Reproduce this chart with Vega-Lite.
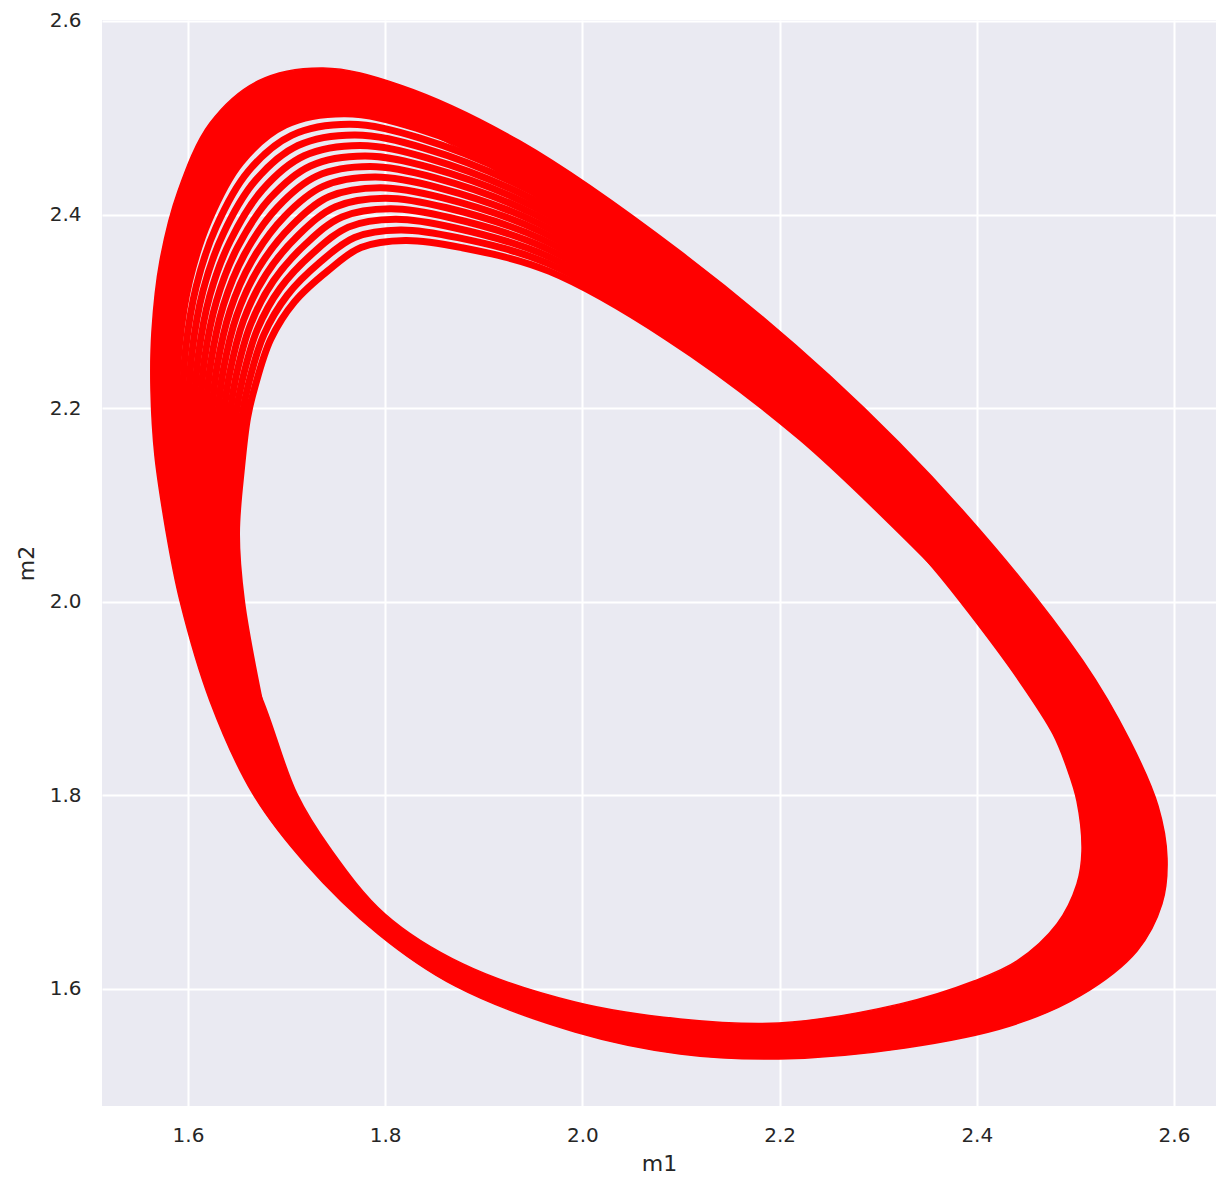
{
  "$schema": "https://vega.github.io/schema/vega-lite/v6.json",
  "width": 1114,
  "height": 1086,
  "autosize": {"type": "none"},
  "padding": {"left": 102, "top": 20, "right": 14, "bottom": 86},
  "background": "white",
  "config": {
    "view": {"fill": "#EAEAF2", "stroke": null},
    "font": "DejaVu Sans",
    "axis": {
      "domain": false,
      "ticks": false,
      "tickSize": 0,
      "gridColor": "#FFFFFF",
      "gridWidth": 2,
      "labelFont": "DejaVu Sans",
      "labelFontSize": 20,
      "labelColor": "#262626",
      "labelPadding": 21,
      "labelFlush": false,
      "labelOverlap": false,
      "titleFont": "DejaVu Sans",
      "titleFontSize": 22,
      "titleFontWeight": "normal",
      "titleColor": "#262626"
    }
  },
  "datasets": {
    "ring": [
      {"i": 1, "m1": 1.5777, "m2": 2.0731},
      {"i": 2, "m1": 1.5665, "m2": 2.1506},
      {"i": 3, "m1": 1.5625, "m2": 2.2178},
      {"i": 4, "m1": 1.5635, "m2": 2.2797},
      {"i": 5, "m1": 1.5716, "m2": 2.3521},
      {"i": 6, "m1": 1.5899, "m2": 2.4244},
      {"i": 7, "m1": 1.6223, "m2": 2.4946},
      {"i": 8, "m1": 1.6710, "m2": 2.5380},
      {"i": 9, "m1": 1.7369, "m2": 2.5514},
      {"i": 10, "m1": 1.8150, "m2": 2.5339},
      {"i": 11, "m1": 1.9367, "m2": 2.4760},
      {"i": 12, "m1": 2.0990, "m2": 2.3624},
      {"i": 13, "m1": 2.2511, "m2": 2.2333},
      {"i": 14, "m1": 2.3880, "m2": 2.0917},
      {"i": 15, "m1": 2.5077, "m2": 1.9388},
      {"i": 16, "m1": 2.5554, "m2": 1.8562},
      {"i": 17, "m1": 2.5838, "m2": 1.7890},
      {"i": 18, "m1": 2.5929, "m2": 1.7353},
      {"i": 19, "m1": 2.5878, "m2": 1.6878},
      {"i": 20, "m1": 2.5625, "m2": 1.6392},
      {"i": 21, "m1": 2.5047, "m2": 1.5927},
      {"i": 22, "m1": 2.4337, "m2": 1.5617},
      {"i": 23, "m1": 2.3272, "m2": 1.5390},
      {"i": 24, "m1": 2.1994, "m2": 1.5276},
      {"i": 25, "m1": 2.0990, "m2": 1.5328},
      {"i": 26, "m1": 1.9925, "m2": 1.5555},
      {"i": 27, "m1": 1.8708, "m2": 1.6031},
      {"i": 28, "m1": 1.7927, "m2": 1.6568},
      {"i": 29, "m1": 1.7187, "m2": 1.7301},
      {"i": 30, "m1": 1.6659, "m2": 1.8014},
      {"i": 31, "m1": 1.6223, "m2": 1.8975},
      {"i": 32, "m1": 1.5919, "m2": 2.0008},
      {"i": 33, "m1": 1.5777, "m2": 2.0731},
      {"i": 34, "m1": null, "m2": null},
      {"i": 35, "m1": 1.6314, "m2": 2.0008},
      {"i": 36, "m1": 1.6761, "m2": 1.8975},
      {"i": 37, "m1": 1.7105, "m2": 1.8014},
      {"i": 38, "m1": 1.7440, "m2": 1.7456},
      {"i": 39, "m1": 1.7998, "m2": 1.6774},
      {"i": 40, "m1": 1.8789, "m2": 1.6258},
      {"i": 41, "m1": 1.9925, "m2": 1.5865},
      {"i": 42, "m1": 2.0990, "m2": 1.5690},
      {"i": 43, "m1": 2.1994, "m2": 1.5648},
      {"i": 44, "m1": 2.3221, "m2": 1.5845},
      {"i": 45, "m1": 2.3972, "m2": 1.6082},
      {"i": 46, "m1": 2.4408, "m2": 1.6289},
      {"i": 47, "m1": 2.4813, "m2": 1.6671},
      {"i": 48, "m1": 2.5016, "m2": 1.7084},
      {"i": 49, "m1": 2.5067, "m2": 1.7425},
      {"i": 50, "m1": 2.5016, "m2": 1.7942},
      {"i": 51, "m1": 2.4915, "m2": 1.8283},
      {"i": 52, "m1": 2.4773, "m2": 1.8634},
      {"i": 53, "m1": 2.4408, "m2": 1.9213},
      {"i": 54, "m1": 2.3982, "m2": 1.9802},
      {"i": 55, "m1": 2.3556, "m2": 2.0349},
      {"i": 56, "m1": 2.2268, "m2": 2.1795},
      {"i": 57, "m1": 2.0911, "m2": 2.3066},
      {"i": 58, "m1": 1.9489, "m2": 2.4210},
      {"i": 59, "m1": 1.8316, "m2": 2.4893},
      {"i": 60, "m1": 1.7591, "m2": 2.5041},
      {"i": 61, "m1": 1.6987, "m2": 2.4923},
      {"i": 62, "m1": 1.6539, "m2": 2.4540},
      {"i": 63, "m1": 1.6213, "m2": 2.3940},
      {"i": 64, "m1": 1.6014, "m2": 2.3306},
      {"i": 65, "m1": 1.5912, "m2": 2.2644},
      {"i": 66, "m1": 1.5886, "m2": 2.2105},
      {"i": 67, "m1": 1.5902, "m2": 2.1474},
      {"i": 68, "m1": 1.5972, "m2": 2.0723},
      {"i": 69, "m1": 1.6314, "m2": 2.0008}
    ],
    "strands": [
      {"s": 1, "i": 1, "m1": 1.6725, "m2": 1.8975}, {"s": 1, "i": 2, "m1": 1.6543, "m2": 2.0008}, {"s": 1, "i": 3, "m1": 1.6492, "m2": 2.0701}, {"s": 1, "i": 4, "m1": 1.6543, "m2": 2.1384},
      {"s": 1, "i": 5, "m1": 1.6605, "m2": 2.1905}, {"s": 1, "i": 6, "m1": 1.6679, "m2": 2.2221}, {"s": 1, "i": 7, "m1": 1.6839, "m2": 2.2711}, {"s": 1, "i": 8, "m1": 1.7081, "m2": 2.3099},
      {"s": 1, "i": 9, "m1": 1.7416, "m2": 2.3417}, {"s": 1, "i": 10, "m1": 1.7754, "m2": 2.3659}, {"s": 1, "i": 11, "m1": 1.8204, "m2": 2.3732}, {"s": 1, "i": 12, "m1": 1.8776, "m2": 2.3658},
      {"s": 1, "i": 13, "m1": 1.9665, "m2": 2.3413}, {"s": 1, "i": 14, "m1": 2.0863, "m2": 2.2730}, {"s": 1, "i": 15, "m1": 2.2221, "m2": 2.1695}, {"s": 1, "i": 16, "m1": 2.3574, "m2": 2.0380},

      {"s": 2, "i": 1, "m1": 1.6718, "m2": 1.8975}, {"s": 2, "i": 2, "m1": 1.6525, "m2": 2.0008}, {"s": 2, "i": 3, "m1": 1.6467, "m2": 2.0702}, {"s": 2, "i": 4, "m1": 1.6505, "m2": 2.1392},
      {"s": 2, "i": 5, "m1": 1.6549, "m2": 2.1921}, {"s": 2, "i": 6, "m1": 1.6615, "m2": 2.2256}, {"s": 2, "i": 7, "m1": 1.6770, "m2": 2.2760}, {"s": 2, "i": 8, "m1": 1.7009, "m2": 2.3169},
      {"s": 2, "i": 9, "m1": 1.7343, "m2": 2.3511}, {"s": 2, "i": 10, "m1": 1.7690, "m2": 2.3764}, {"s": 2, "i": 11, "m1": 1.8153, "m2": 2.3841}, {"s": 2, "i": 12, "m1": 1.8738, "m2": 2.3761},
      {"s": 2, "i": 13, "m1": 1.9647, "m2": 2.3496}, {"s": 2, "i": 14, "m1": 2.0869, "m2": 2.2768}, {"s": 2, "i": 15, "m1": 2.2231, "m2": 2.1715}, {"s": 2, "i": 16, "m1": 2.3582, "m2": 2.0394},

      {"s": 3, "i": 1, "m1": 1.6686, "m2": 1.8975}, {"s": 3, "i": 2, "m1": 1.6486, "m2": 2.0008}, {"s": 3, "i": 3, "m1": 1.6422, "m2": 2.0704}, {"s": 3, "i": 4, "m1": 1.6450, "m2": 2.1399},
      {"s": 3, "i": 5, "m1": 1.6488, "m2": 2.1938}, {"s": 3, "i": 6, "m1": 1.6551, "m2": 2.2291}, {"s": 3, "i": 7, "m1": 1.6702, "m2": 2.2810}, {"s": 3, "i": 8, "m1": 1.6936, "m2": 2.3240},
      {"s": 3, "i": 9, "m1": 1.7270, "m2": 2.3604}, {"s": 3, "i": 10, "m1": 1.7626, "m2": 2.3870}, {"s": 3, "i": 11, "m1": 1.8102, "m2": 2.3951}, {"s": 3, "i": 12, "m1": 1.8700, "m2": 2.3864},
      {"s": 3, "i": 13, "m1": 1.9628, "m2": 2.3578}, {"s": 3, "i": 14, "m1": 2.0876, "m2": 2.2824}, {"s": 3, "i": 15, "m1": 2.2250, "m2": 2.1755}, {"s": 3, "i": 16, "m1": 2.3601, "m2": 2.0429},

      {"s": 4, "i": 1, "m1": 1.6653, "m2": 1.8975}, {"s": 4, "i": 2, "m1": 1.6446, "m2": 2.0008}, {"s": 4, "i": 3, "m1": 1.6377, "m2": 2.0706}, {"s": 4, "i": 4, "m1": 1.6395, "m2": 2.1407},
      {"s": 4, "i": 5, "m1": 1.6428, "m2": 2.1955}, {"s": 4, "i": 6, "m1": 1.6487, "m2": 2.2327}, {"s": 4, "i": 7, "m1": 1.6633, "m2": 2.2859}, {"s": 4, "i": 8, "m1": 1.6864, "m2": 2.3310},
      {"s": 4, "i": 9, "m1": 1.7197, "m2": 2.3698}, {"s": 4, "i": 10, "m1": 1.7562, "m2": 2.3975}, {"s": 4, "i": 11, "m1": 1.8051, "m2": 2.4060}, {"s": 4, "i": 12, "m1": 1.8661, "m2": 2.3967},
      {"s": 4, "i": 13, "m1": 1.9610, "m2": 2.3661}, {"s": 4, "i": 14, "m1": 2.0884, "m2": 2.2880}, {"s": 4, "i": 15, "m1": 2.2268, "m2": 2.1795}, {"s": 4, "i": 16, "m1": 2.3621, "m2": 2.0463},

      {"s": 5, "i": 1, "m1": 1.6621, "m2": 1.8975}, {"s": 5, "i": 2, "m1": 1.6407, "m2": 2.0008}, {"s": 5, "i": 3, "m1": 1.6332, "m2": 2.0708}, {"s": 5, "i": 4, "m1": 1.6341, "m2": 2.1414},
      {"s": 5, "i": 5, "m1": 1.6368, "m2": 2.1972}, {"s": 5, "i": 6, "m1": 1.6423, "m2": 2.2362}, {"s": 5, "i": 7, "m1": 1.6564, "m2": 2.2909}, {"s": 5, "i": 8, "m1": 1.6791, "m2": 2.3380},
      {"s": 5, "i": 9, "m1": 1.7124, "m2": 2.3792}, {"s": 5, "i": 10, "m1": 1.7498, "m2": 2.4081}, {"s": 5, "i": 11, "m1": 1.7999, "m2": 2.4169}, {"s": 5, "i": 12, "m1": 1.8623, "m2": 2.4070},
      {"s": 5, "i": 13, "m1": 1.9592, "m2": 2.3743}, {"s": 5, "i": 14, "m1": 2.0892, "m2": 2.2936}, {"s": 5, "i": 15, "m1": 2.2286, "m2": 2.1836}, {"s": 5, "i": 16, "m1": 2.3640, "m2": 2.0497},

      {"s": 6, "i": 1, "m1": 1.6589, "m2": 1.8975}, {"s": 6, "i": 2, "m1": 1.6367, "m2": 2.0008}, {"s": 6, "i": 3, "m1": 1.6287, "m2": 2.0710}, {"s": 6, "i": 4, "m1": 1.6286, "m2": 2.1422},
      {"s": 6, "i": 5, "m1": 1.6308, "m2": 2.1988}, {"s": 6, "i": 6, "m1": 1.6359, "m2": 2.2397}, {"s": 6, "i": 7, "m1": 1.6495, "m2": 2.2959}, {"s": 6, "i": 8, "m1": 1.6719, "m2": 2.3450},
      {"s": 6, "i": 9, "m1": 1.7051, "m2": 2.3885}, {"s": 6, "i": 10, "m1": 1.7434, "m2": 2.4186}, {"s": 6, "i": 11, "m1": 1.7948, "m2": 2.4278}, {"s": 6, "i": 12, "m1": 1.8585, "m2": 2.4173},
      {"s": 6, "i": 13, "m1": 1.9574, "m2": 2.3826}, {"s": 6, "i": 14, "m1": 2.0900, "m2": 2.2992}, {"s": 6, "i": 15, "m1": 2.2304, "m2": 2.1876}, {"s": 6, "i": 16, "m1": 2.3660, "m2": 2.0531},

      {"s": 7, "i": 1, "m1": 1.6557, "m2": 1.8975}, {"s": 7, "i": 2, "m1": 1.6328, "m2": 2.0008}, {"s": 7, "i": 3, "m1": 1.6242, "m2": 2.0712}, {"s": 7, "i": 4, "m1": 1.6231, "m2": 2.1429},
      {"s": 7, "i": 5, "m1": 1.6247, "m2": 2.2005}, {"s": 7, "i": 6, "m1": 1.6295, "m2": 2.2432}, {"s": 7, "i": 7, "m1": 1.6427, "m2": 2.3008}, {"s": 7, "i": 8, "m1": 1.6647, "m2": 2.3520},
      {"s": 7, "i": 9, "m1": 1.6978, "m2": 2.3979}, {"s": 7, "i": 10, "m1": 1.7370, "m2": 2.4291}, {"s": 7, "i": 11, "m1": 1.7897, "m2": 2.4387}, {"s": 7, "i": 12, "m1": 1.8546, "m2": 2.4276},
      {"s": 7, "i": 13, "m1": 1.9555, "m2": 2.3908}, {"s": 7, "i": 14, "m1": 2.0908, "m2": 2.3047}, {"s": 7, "i": 15, "m1": 2.2323, "m2": 2.1916}, {"s": 7, "i": 16, "m1": 2.3679, "m2": 2.0565},

      {"s": 8, "i": 1, "m1": 1.6524, "m2": 1.8975}, {"s": 8, "i": 2, "m1": 1.6288, "m2": 2.0008}, {"s": 8, "i": 3, "m1": 1.6197, "m2": 2.0714}, {"s": 8, "i": 4, "m1": 1.6176, "m2": 2.1437},
      {"s": 8, "i": 5, "m1": 1.6187, "m2": 2.2022}, {"s": 8, "i": 6, "m1": 1.6231, "m2": 2.2468}, {"s": 8, "i": 7, "m1": 1.6358, "m2": 2.3058}, {"s": 8, "i": 8, "m1": 1.6574, "m2": 2.3590},
      {"s": 8, "i": 9, "m1": 1.6905, "m2": 2.4072}, {"s": 8, "i": 10, "m1": 1.7306, "m2": 2.4397}, {"s": 8, "i": 11, "m1": 1.7846, "m2": 2.4496}, {"s": 8, "i": 12, "m1": 1.8508, "m2": 2.4379},
      {"s": 8, "i": 13, "m1": 1.9537, "m2": 2.3991}, {"s": 8, "i": 14, "m1": 2.0916, "m2": 2.3103}, {"s": 8, "i": 15, "m1": 2.2341, "m2": 2.1957}, {"s": 8, "i": 16, "m1": 2.3699, "m2": 2.0599},

      {"s": 9, "i": 1, "m1": 1.6492, "m2": 1.8975}, {"s": 9, "i": 2, "m1": 1.6248, "m2": 2.0008}, {"s": 9, "i": 3, "m1": 1.6152, "m2": 2.0716}, {"s": 9, "i": 4, "m1": 1.6121, "m2": 2.1444},
      {"s": 9, "i": 5, "m1": 1.6127, "m2": 2.2039}, {"s": 9, "i": 6, "m1": 1.6167, "m2": 2.2503}, {"s": 9, "i": 7, "m1": 1.6289, "m2": 2.3108}, {"s": 9, "i": 8, "m1": 1.6502, "m2": 2.3660},
      {"s": 9, "i": 9, "m1": 1.6831, "m2": 2.4166}, {"s": 9, "i": 10, "m1": 1.7242, "m2": 2.4502}, {"s": 9, "i": 11, "m1": 1.7795, "m2": 2.4605}, {"s": 9, "i": 12, "m1": 1.8469, "m2": 2.4482},
      {"s": 9, "i": 13, "m1": 1.9519, "m2": 2.4073}, {"s": 9, "i": 14, "m1": 2.0924, "m2": 2.3159}, {"s": 9, "i": 15, "m1": 2.2359, "m2": 2.1997}, {"s": 9, "i": 16, "m1": 2.3718, "m2": 2.0633},

      {"s": 10, "i": 1, "m1": 1.6460, "m2": 1.8975}, {"s": 10, "i": 2, "m1": 1.6209, "m2": 2.0008}, {"s": 10, "i": 3, "m1": 1.6107, "m2": 2.0717}, {"s": 10, "i": 4, "m1": 1.6067, "m2": 2.1451},
      {"s": 10, "i": 5, "m1": 1.6067, "m2": 2.2055}, {"s": 10, "i": 6, "m1": 1.6104, "m2": 2.2538}, {"s": 10, "i": 7, "m1": 1.6220, "m2": 2.3157}, {"s": 10, "i": 8, "m1": 1.6430, "m2": 2.3730},
      {"s": 10, "i": 9, "m1": 1.6759, "m2": 2.4260}, {"s": 10, "i": 10, "m1": 1.7179, "m2": 2.4607}, {"s": 10, "i": 11, "m1": 1.7744, "m2": 2.4714}, {"s": 10, "i": 12, "m1": 1.8431, "m2": 2.4584},
      {"s": 10, "i": 13, "m1": 1.9501, "m2": 2.4155}, {"s": 10, "i": 14, "m1": 2.0932, "m2": 2.3215}, {"s": 10, "i": 15, "m1": 2.2377, "m2": 2.2037}, {"s": 10, "i": 16, "m1": 2.3737, "m2": 2.0667},

      {"s": 11, "i": 1, "m1": 1.6427, "m2": 1.8975}, {"s": 11, "i": 2, "m1": 1.6169, "m2": 2.0008}, {"s": 11, "i": 3, "m1": 1.6062, "m2": 2.0719}, {"s": 11, "i": 4, "m1": 1.6012, "m2": 2.1459},
      {"s": 11, "i": 5, "m1": 1.6007, "m2": 2.2072}, {"s": 11, "i": 6, "m1": 1.6040, "m2": 2.2574}, {"s": 11, "i": 7, "m1": 1.6151, "m2": 2.3207}, {"s": 11, "i": 8, "m1": 1.6357, "m2": 2.3800},
      {"s": 11, "i": 9, "m1": 1.6685, "m2": 2.4353}, {"s": 11, "i": 10, "m1": 1.7115, "m2": 2.4713}, {"s": 11, "i": 11, "m1": 1.7693, "m2": 2.4823}, {"s": 11, "i": 12, "m1": 1.8393, "m2": 2.4687},
      {"s": 11, "i": 13, "m1": 1.9483, "m2": 2.4238}, {"s": 11, "i": 14, "m1": 2.0940, "m2": 2.3271}, {"s": 11, "i": 15, "m1": 2.2395, "m2": 2.2078}, {"s": 11, "i": 16, "m1": 2.3757, "m2": 2.0701},

      {"s": 12, "i": 1, "m1": 1.6395, "m2": 1.8975}, {"s": 12, "i": 2, "m1": 1.6130, "m2": 2.0008}, {"s": 12, "i": 3, "m1": 1.6017, "m2": 2.0721}, {"s": 12, "i": 4, "m1": 1.5957, "m2": 2.1466},
      {"s": 12, "i": 5, "m1": 1.5946, "m2": 2.2089}, {"s": 12, "i": 6, "m1": 1.5976, "m2": 2.2609}, {"s": 12, "i": 7, "m1": 1.6083, "m2": 2.3256}, {"s": 12, "i": 8, "m1": 1.6285, "m2": 2.3870},
      {"s": 12, "i": 9, "m1": 1.6612, "m2": 2.4447}, {"s": 12, "i": 10, "m1": 1.7051, "m2": 2.4818}, {"s": 12, "i": 11, "m1": 1.7642, "m2": 2.4932}, {"s": 12, "i": 12, "m1": 1.8354, "m2": 2.4790},
      {"s": 12, "i": 13, "m1": 1.9464, "m2": 2.4320}, {"s": 12, "i": 14, "m1": 2.0948, "m2": 2.3326}, {"s": 12, "i": 15, "m1": 2.2414, "m2": 2.2118}, {"s": 12, "i": 16, "m1": 2.3776, "m2": 2.0735},

      {"s": 13, "i": 1, "m1": 1.6363, "m2": 1.8975}, {"s": 13, "i": 2, "m1": 1.6090, "m2": 2.0008}, {"s": 13, "i": 3, "m1": 1.5972, "m2": 2.0723}, {"s": 13, "i": 4, "m1": 1.5902, "m2": 2.1474},
      {"s": 13, "i": 5, "m1": 1.5886, "m2": 2.2105}, {"s": 13, "i": 6, "m1": 1.5912, "m2": 2.2644}, {"s": 13, "i": 7, "m1": 1.6014, "m2": 2.3306}, {"s": 13, "i": 8, "m1": 1.6213, "m2": 2.3940},
      {"s": 13, "i": 9, "m1": 1.6539, "m2": 2.4540}, {"s": 13, "i": 10, "m1": 1.6987, "m2": 2.4923}, {"s": 13, "i": 11, "m1": 1.7591, "m2": 2.5041}, {"s": 13, "i": 12, "m1": 1.8316, "m2": 2.4893},
      {"s": 13, "i": 13, "m1": 1.9446, "m2": 2.4403}, {"s": 13, "i": 14, "m1": 2.0956, "m2": 2.3382}, {"s": 13, "i": 15, "m1": 2.2432, "m2": 2.2158}, {"s": 13, "i": 16, "m1": 2.3796, "m2": 2.0769}
    ]
  },
  "layer": [
    {
      "data": {"name": "ring"},
      "mark": {"type": "line", "interpolate": "catmull-rom", "fill": "#FF0000", "stroke": "#FF0000", "strokeWidth": 1.5, "invalid": "break-paths-show-domains"},
      "encoding": {
        "x": {"field": "m1", "type": "quantitative", "title": "m1",
              "scale": {"domain": [1.5128, 2.6426], "nice": false, "zero": false},
              "axis": {"values": [1.6, 1.8, 2.0, 2.2, 2.4, 2.6], "format": ".1f", "labelPadding": 19, "titlePadding": 8}},
        "y": {"field": "m2", "type": "quantitative", "title": "m2",
              "scale": {"domain": [1.479, 2.601], "nice": false, "zero": false},
              "axis": {"values": [1.6, 1.8, 2.0, 2.2, 2.4, 2.6], "format": ".1f", "titlePadding": 11}},
        "order": {"field": "i", "type": "quantitative"}
      }
    },
    {
      "data": {"name": "strands"},
      "mark": {"type": "line", "interpolate": "catmull-rom", "color": "#FF0000", "strokeWidth": 7, "strokeCap": "butt"},
      "encoding": {
        "x": {"field": "m1", "type": "quantitative"},
        "y": {"field": "m2", "type": "quantitative"},
        "detail": {"field": "s", "type": "nominal"},
        "order": {"field": "i", "type": "quantitative"}
      }
    }
  ]
}
